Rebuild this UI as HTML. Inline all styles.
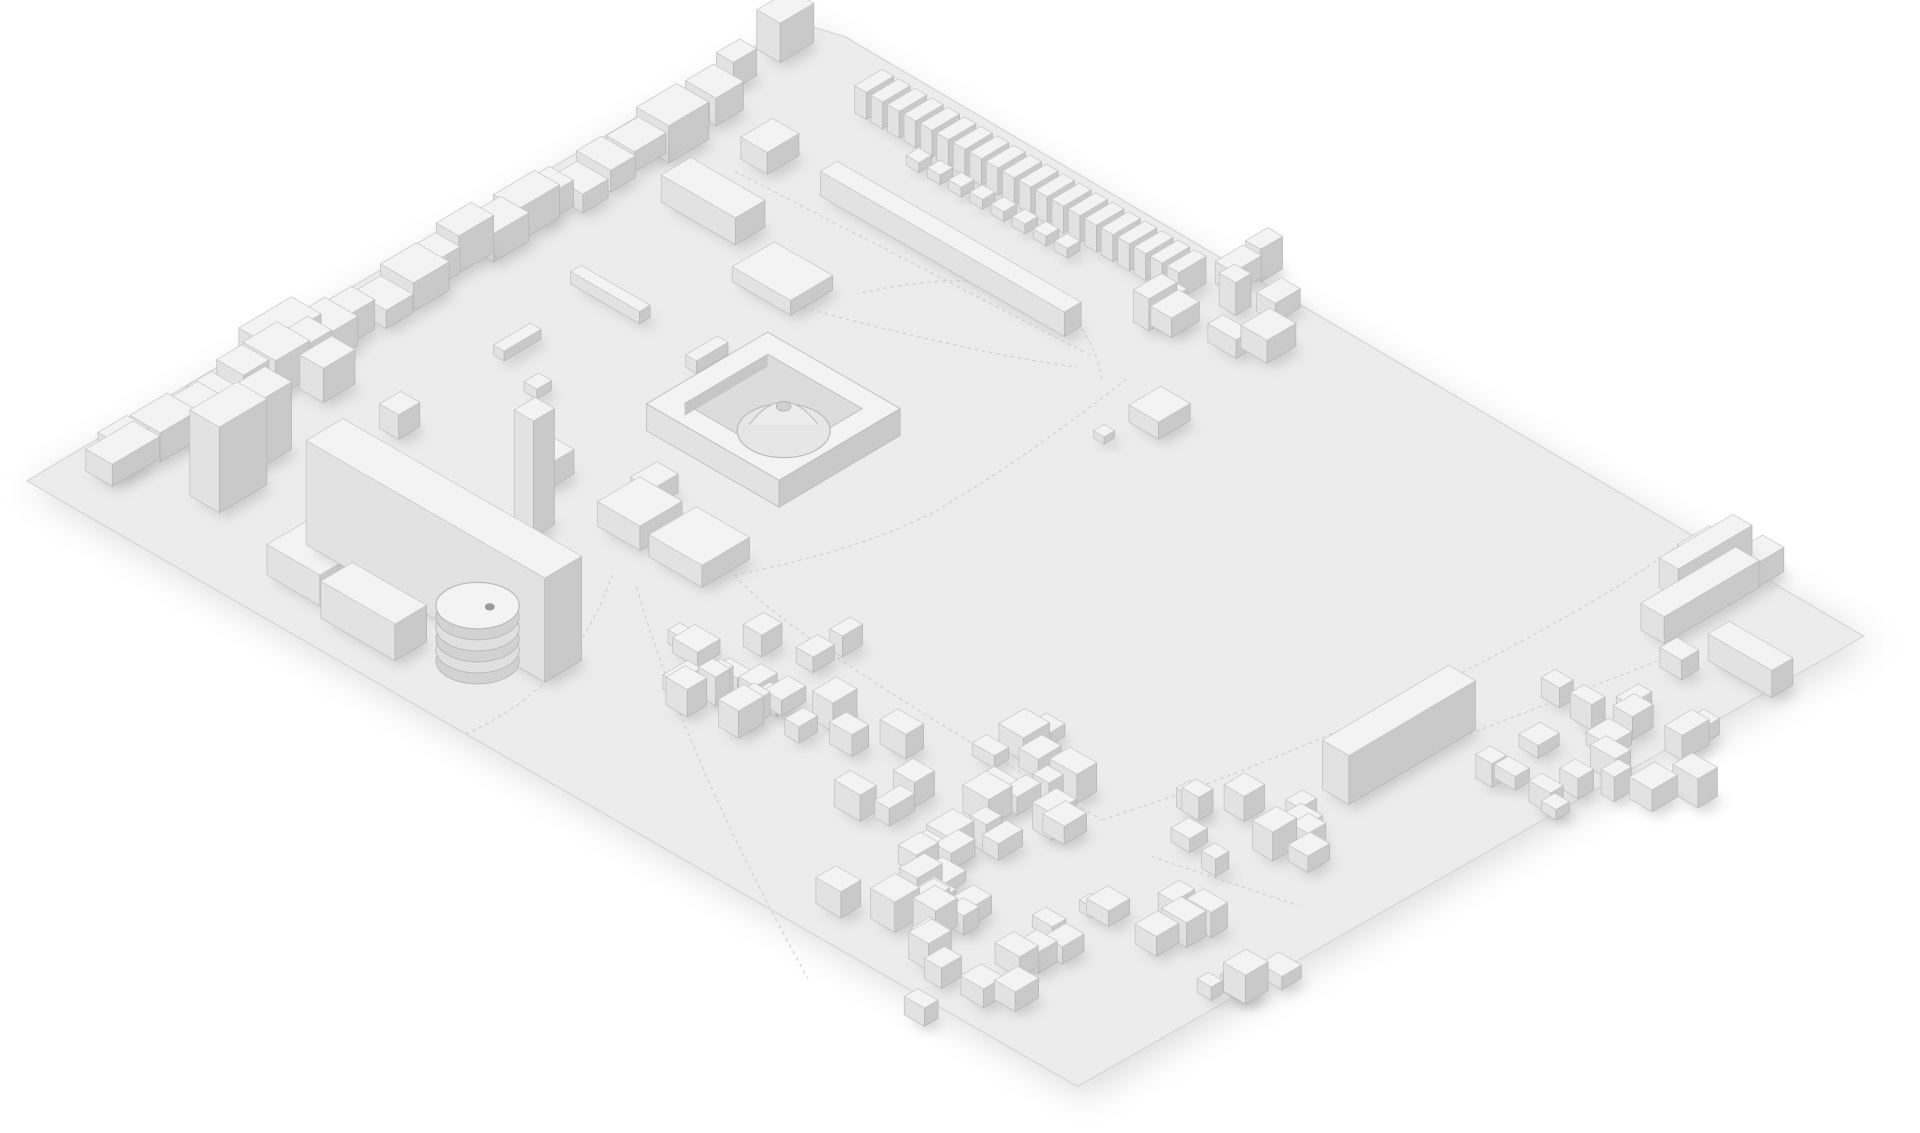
<!DOCTYPE html>
<html><head><meta charset="utf-8"><style>
html,body{margin:0;padding:0;background:#fff;width:1920px;height:1133px;overflow:hidden}
svg{display:block}
</style></head><body>
<svg id="s" width="1920" height="1133" viewBox="0 0 1568 926" preserveAspectRatio="none" xmlns="http://www.w3.org/2000/svg">
<defs>
<filter id="sh" x="-10%" y="-10%" width="120%" height="120%"><feGaussianBlur stdDeviation="14"/></filter>
<filter id="bs" x="-30%" y="-30%" width="160%" height="160%"><feGaussianBlur stdDeviation="5"/></filter>
</defs>
<polygon points="26,400 656,24 1528,526 886,896" fill="#cfcfcf" filter="url(#sh)" opacity="0.7"/>
<polygon points="22,393 650,18 690,30 1522,520 880,888" fill="#ececec" stroke="#d6d6d6" stroke-width="1"/>
<g fill="none" stroke="#d2d2d2" stroke-width="1" stroke-dasharray="3,3">
<path d="M600,140 L890,290"/>
<path d="M650,250 Q800,290 880,300"/>
<path d="M920,310 Q830,380 760,420 Q700,450 600,470"/>
<path d="M380,600 Q470,560 500,470"/>
<path d="M520,480 Q560,620 660,800"/>
<path d="M600,470 Q640,520 900,670"/>
<path d="M900,670 Q1120,600 1320,480"/>
<path d="M1320,480 L1380,440"/>
<path d="M940,700 L1060,740"/>
<path d="M1200,600 L1380,530"/>
<path d="M900,310 Q880,200 700,240"/>
</g>
<g id="b"></g>
</svg>
<script>
var g=document.getElementById('b');
var U=[0.86,-0.51],V=[0.866,0.5];
var items=[];
function box(x,y,a,b,h,opt){items.push({x:x,y:y,a:a,b:b,h:h,o:opt||{}});}
function pt(p){return p[0].toFixed(1)+','+p[1].toFixed(1);}
function drawBox(it){
 var x=it.x,y=it.y,a=it.a,b=it.b,h=it.h;
 var P0=[x,y],P1=[x+a*U[0],y+a*U[1]],P2=[P1[0]+b*V[0],P1[1]+b*V[1]],P3=[x+b*V[0],y+b*V[1]];
 function up(p){return [p[0],p[1]-h];}
 var s='';
 s+='<polygon points="'+[P0,P3,P2,P1].map(pt).join(' ')+'" fill="#a8a8a8" opacity="0.5" filter="url(#bs)" transform="translate(5,4)"/>';
 s+='<polygon points="'+[P0,P3,up(P3),up(P0)].map(pt).join(' ')+'" fill="#e2e2e2" stroke="#c0c0c0" stroke-width="0.6"/>';
 s+='<polygon points="'+[P3,P2,up(P2),up(P3)].map(pt).join(' ')+'" fill="#c9c9c9" stroke="#b5b5b5" stroke-width="0.6"/>';
 s+='<polygon points="'+[up(P0),up(P1),up(P2),up(P3)].map(pt).join(' ')+'" fill="#f3f3f3" stroke="#c8c8c8" stroke-width="0.6"/>';
 return s;
}
var seed=7;function r(){seed=(seed*16807)%2147483647;return seed/2147483647;}
function cluster(x0,y0,x1,y1,n,amin,amax,hmin,hmax){
 for(var i=0;i<n;i++){box(x0+r()*(x1-x0),y0+r()*(y1-y0),amin+r()*(amax-amin),amin+r()*(amax-amin),hmin+r()*(hmax-hmin));}
}
for(var i=0;i<22;i++){var t=i/21;var x=80+t*(560-80),y=375+t*(85-375);
 box(x+r()*6,y+r()*6,22+r()*18,18+r()*14,14+r()*18);}
box(618,40,32,22,32);
box(585,65,22,16,22);
box(70,385,45,25,18);
box(195,290,50,28,22);
box(245,318,30,22,28);
box(155,405,45,28,70);
box(182,375,40,25,55);
box(250,445,35,225,85);
box(420,430,20,18,95);
box(218,470,40,50,25);
box(262,505,30,70,30);
box(310,350,20,18,20);
box(430,390,25,20,20);
box(670,160,16,230,20);
box(605,130,30,25,18);
box(540,165,28,70,22);
box(598,230,40,55,12);
box(466,232,10,65,10);
box(560,300,30,10,10);
box(403,290,35,10,8);
box(428,320,14,12,8);
for(var i=0;i<20;i++){var d=i*15.5;box(698+d*V[0],92+d*V[1],26,11,22);}
for(var i=0;i<8;i++){var d=i*20;box(740+d*V[0],135+d*V[1],12,12,8);}
cluster(910,215,1030,285,9,14,28,12,28);
box(922,345,30,28,14);box(893,358,10,10,6);
box(488,430,40,40,20);box(530,455,45,50,18);box(515,405,25,20,15);
cluster(540,515,690,595,16,10,24,10,24);
cluster(640,600,860,700,20,12,26,10,24);
cluster(660,690,780,760,10,14,26,12,26);
cluster(735,720,1040,830,24,10,24,8,24);
cluster(945,650,1070,710,10,12,24,10,24);
box(1080,645,120,25,40);
cluster(1200,535,1385,655,14,12,26,10,24);
box(1355,480,70,18,24);box(1340,515,90,22,22);box(1395,540,20,60,22);box(1418,470,25,20,20);
box(1370,465,30,20,20);
cluster(1205,625,1275,665,5,12,22,8,18);
items.sort(function(p,q){return (p.y+p.b*0.25)-(q.y+q.b*0.25);});
var html='';
items.forEach(function(it){html+=drawBox(it);});
function poly(ps,f,st){return '<polygon points="'+ps.map(pt).join(' ')+'" fill="'+f+'" stroke="'+(st||'#bbb')+'" stroke-width="0.7"/>';}
function add(p,a,b){return [p[0]+a*U[0]+b*V[0],p[1]+a*U[1]+b*V[1]];}
var P=[528,352],A=115,B=125,H=22;
var c=[P,add(P,A,0),add(P,A,B),add(P,0,B)];
var cu=c.map(function(p){return [p[0],p[1]-H];});
html+=poly([c[0],c[3],cu[3],cu[0]],'#e2e2e2');
html+=poly([c[3],c[2],cu[2],cu[3]],'#c9c9c9');
html+=poly(cu,'#f3f3f3');
var Pu=[P[0],P[1]-H],i1=18;
var inn=[add(Pu,i1,i1),add(Pu,A-i1,i1),add(Pu,A-i1,B-i1),add(Pu,i1,B-i1)];
html+=poly(inn,'#dcdcdc');
var inn2=inn.map(function(p){return [p[0],p[1]+10];});
html+=poly([inn[0],inn2[0],inn2[1],inn[1]],'#c6c6c6','none');
html+='<ellipse cx="640" cy="352" rx="38" ry="22" fill="#e6e6e6" stroke="#bbb"/>';
html+='<path d="M612,347 Q640,310 668,347" fill="#ececec" stroke="#c0c0c0"/>';
html+='<ellipse cx="640" cy="332" rx="6" ry="4" fill="#d0d0d0" stroke="#aaa" stroke-width="0.6"/>';
for(var k=0;k<5;k++){var yy=540-k*9;html+='<ellipse cx="390" cy="'+yy+'" rx="34" ry="19" fill="'+(k%2?'#e0e0e0':'#d2d2d2')+'" stroke="#b5b5b5" stroke-width="0.7"/>';}
html+='<ellipse cx="390" cy="495" rx="34" ry="19" fill="#f3f3f3" stroke="#bbb"/>';
html+='<ellipse cx="400" cy="496" rx="4" ry="3" fill="#999"/>';
g.innerHTML=html;
</script>
</body></html>
